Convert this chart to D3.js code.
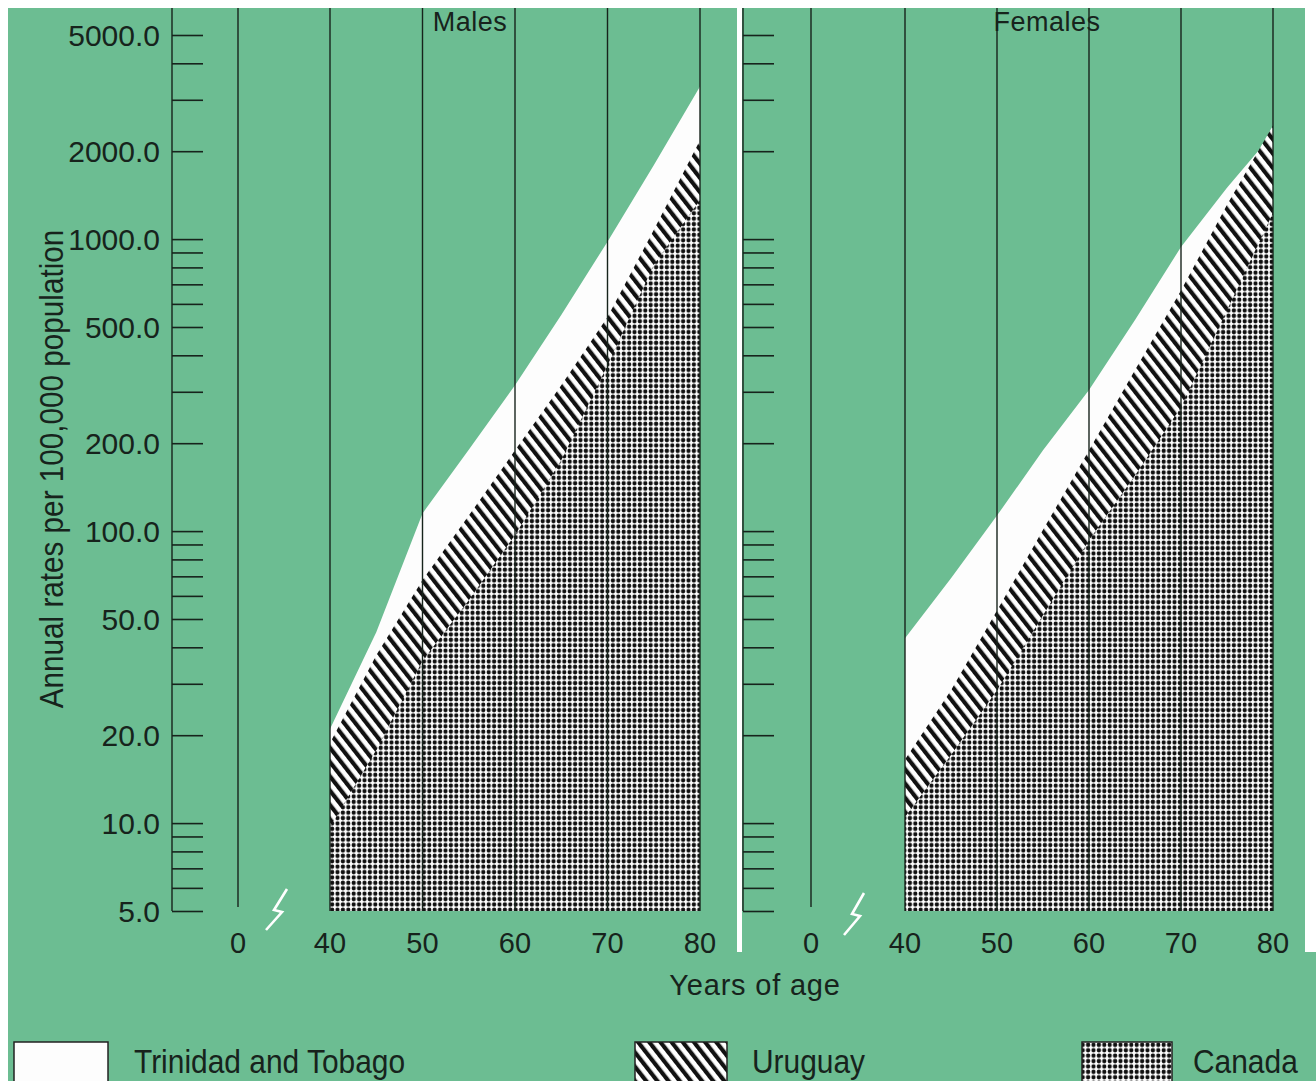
<!DOCTYPE html>
<html><head><meta charset="utf-8">
<script src="https://cdn.jsdelivr.net/npm/d3@7"></script>
<style>body{margin:0;background:#fff} svg{display:block}</style>
</head><body><svg id="c" width="1316" height="1081"></svg>
<script>
// ---- data ----
const ages = [40, 45, 50, 55, 60, 65, 70, 75, 80];
const maleTrinidad   = [21, 45, 115, 190, 316, 550, 980, 1790, 3330];
const maleUruguay    = [18.8, 37.6, 68, 113, 189, 316, 541, 1075, 2180];
const maleCanada     = [9.7, 17.8, 36, 58, 97, 175, 370, 815, 1360];
const femaleTrinidad = [43, 69, 113, 189, 304, 528, 940, 1500, 2300];
const femaleUruguay  = [16.5, 28.5, 53.5, 101, 189, 356, 667, 1310, 2450];
const femaleCanada   = [10.5, 17.1, 28.5, 51.5, 93, 155, 266, 571, 1230];
const yTickLabels = [5, 10, 20, 50, 100, 200, 500, 1000, 2000, 5000];
const xTickLabels = [40, 50, 60, 70, 80];
const zeroLabel = 0;
const seriesNames = ["Trinidad and Tobago", "Uruguay", "Canada"];
const panelTitles = ["Males", "Females"];

// ---- setup ----
const GREEN = "#6cbd92", INK = "#17231c", FONT = "'Liberation Sans', Arial, sans-serif";
const svg = d3.select("#c");
const defs = svg.append("defs");
const hatch = defs.append("pattern").attr("id", "hatch").attr("patternUnits", "userSpaceOnUse")
  .attr("width", 8.8).attr("height", 8.8).attr("patternTransform", "rotate(-38)");
hatch.append("rect").attr("width", 8.8).attr("height", 8.8).attr("fill", "#fff");
hatch.append("rect").attr("width", 4.2).attr("height", 8.8).attr("fill", "#111");
const dots = defs.append("pattern").attr("id", "dots").attr("patternUnits", "userSpaceOnUse")
  .attr("width", 5.4).attr("height", 5.4);
dots.append("rect").attr("width", 5.4).attr("height", 5.4).attr("fill", "#fff");
dots.append("circle").attr("cx", 2.7).attr("cy", 2.7).attr("r", 2.15).attr("fill", "#111");

// backgrounds
svg.append("rect").attr("x", 8).attr("y", 8).attr("width", 729).attr("height", 945).attr("fill", GREEN);
svg.append("rect").attr("x", 742).attr("y", 8).attr("width", 563).attr("height", 945).attr("fill", GREEN);
svg.append("rect").attr("x", 8).attr("y", 952).attr("width", 1308).attr("height", 129).attr("fill", GREEN);

const y = d3.scaleLog().domain([5, 5000]).range([911, 35]);
const TOP = 8;

const panels = [
  {axisX: 172, zeroX: 238, x: d3.scaleLinear().domain([40, 80]).range([330, 700]),
   series: [maleTrinidad, maleUruguay, maleCanada], labels: true, title: panelTitles[0], titleX: 470,
   brk: [[287, 889], [274, 910], [282, 912], [266, 930]]},
  {axisX: 743, zeroX: 811, x: d3.scaleLinear().domain([40, 80]).range([905, 1273]),
   series: [femaleTrinidad, femaleUruguay, femaleCanada], labels: false, title: panelTitles[1], titleX: 1047,
   brk: [[864, 893], [852, 914], [860, 916], [844, 935]]}
];
const fills = ["#fdfdfd", "url(#hatch)", "url(#dots)"];

panels.forEach(p => {
  const g = svg.append("g");
  // areas
  p.series.forEach((vals, i) => {
    const area = d3.area()
      .x((d, j) => p.x(ages[j])).y0(y(5)).y1(d => y(d));
    g.append("path").datum(vals).attr("d", area).attr("fill", fills[i]);
  });
  // vertical grid lines
  g.selectAll(".grid").data(xTickLabels).join("line")
    .attr("x1", d => p.x(d)).attr("x2", d => p.x(d)).attr("y1", TOP).attr("y2", y(5))
    .attr("stroke", INK).attr("stroke-width", 1.4);
  g.append("line").attr("x1", p.zeroX).attr("x2", p.zeroX).attr("y1", TOP).attr("y2", y(5) - 4)
    .attr("stroke", INK).attr("stroke-width", 1.4);
  // y axis line + ticks
  g.append("line").attr("x1", p.axisX).attr("x2", p.axisX).attr("y1", TOP).attr("y2", y(5))
    .attr("stroke", INK).attr("stroke-width", 1.4);
  const ax = g.append("g").attr("transform", `translate(${p.axisX},0)`)
    .call(d3.axisRight(y).tickValues(y.ticks()).tickSize(31).tickFormat(""));
  ax.select(".domain").remove();
  ax.selectAll(".tick line").attr("stroke", INK).attr("stroke-width", 1.6);
  // y labels
  if (p.labels) {
    g.selectAll(".ylab").data(yTickLabels).join("text")
      .attr("x", p.axisX - 12).attr("y", d => y(d)).attr("dy", "0.36em")
      .attr("text-anchor", "end").attr("font-family", FONT).attr("font-size", 30).attr("fill", INK)
      .text(d => d.toFixed(1));
  }
  // x labels
  g.selectAll(".xlab").data(xTickLabels).join("text")
    .attr("x", d => p.x(d)).attr("y", 953).attr("text-anchor", "middle")
    .attr("font-family", FONT).attr("font-size", 29).attr("fill", INK).text(d => d);
  g.append("text").attr("x", p.zeroX).attr("y", 953).attr("text-anchor", "middle")
    .attr("font-family", FONT).attr("font-size", 29).attr("fill", INK).text(zeroLabel);
  // break mark
  g.append("path").attr("d", d3.line()(p.brk)).attr("fill", "none")
    .attr("stroke", "#fff").attr("stroke-width", 2.6).attr("stroke-linejoin", "miter");
  // title
  g.append("text").attr("x", p.titleX).attr("y", 31).attr("text-anchor", "middle")
    .attr("font-family", FONT).attr("font-size", 27).attr("letter-spacing", 0.5).attr("fill", INK).text(p.title);
});

// axis titles
svg.append("text").attr("x", 755).attr("y", 995).attr("text-anchor", "middle")
  .attr("font-family", FONT).attr("font-size", 29).attr("letter-spacing", 0.8).attr("fill", INK).text("Years of age");
svg.append("text").attr("transform", "translate(63,469) rotate(-90) scale(0.9,1)").attr("text-anchor", "middle")
  .attr("font-family", FONT).attr("font-size", 33).attr("fill", INK).text("Annual rates per 100,000 population");

// legend
const legendBoxX = [14, 635, 1082], legendBoxW = [94, 92, 90], legendTextX = [134, 752, 1193];
seriesNames.forEach((name, i) => {
  svg.append("rect").attr("x", legendBoxX[i]).attr("y", 1042).attr("width", legendBoxW[i]).attr("height", 50)
    .attr("fill", fills[i]).attr("stroke", "#222").attr("stroke-width", 1.5);
  svg.append("text").attr("transform", `translate(${legendTextX[i]},1073) scale(0.88,1)`)
    .attr("font-family", FONT).attr("font-size", 34).attr("fill", INK).text(name);
});
</script></body></html>
